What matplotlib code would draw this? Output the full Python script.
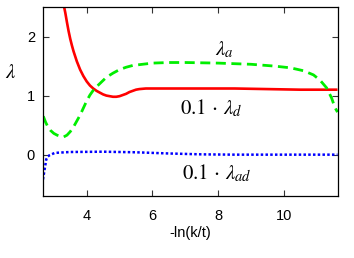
import matplotlib
matplotlib.use("Agg")
import matplotlib.pyplot as plt

plt.rcParams["font.family"] = ["Liberation Sans", "DejaVu Sans"]
plt.rcParams["mathtext.fontset"] = "stix"

# 0.1 * lambda_d (red, solid)
x_d = [3.25, 3.30, 3.35, 3.40, 3.45, 3.50, 3.55, 3.60, 3.70, 3.80, 3.90, 4.00,
       4.10, 4.20, 4.30, 4.40, 4.50, 4.60, 4.70, 4.80, 4.90, 5.00, 5.10, 5.20,
       5.30, 5.40, 5.50, 5.60, 5.80, 6.50, 7.50, 8.50, 9.50, 10.5, 11.63]
y_d = [2.68, 2.54, 2.40, 2.24, 2.09, 1.96, 1.85, 1.75, 1.58, 1.44, 1.33, 1.24,
       1.17, 1.12, 1.08, 1.05, 1.02, 1.00, 0.99, 0.98, 0.98, 0.99, 1.01, 1.03,
       1.06, 1.08, 1.10, 1.11, 1.12, 1.12, 1.12, 1.12, 1.11, 1.10, 1.10]

# lambda_a (green, dashed)
x_a = [2.68, 2.75, 2.82, 2.90, 3.00, 3.10, 3.20, 3.30, 3.40, 3.50, 3.60, 3.70,
       3.80, 3.90, 4.00, 4.10, 4.20, 4.30, 4.45, 4.60, 4.80, 5.00, 5.20, 5.40,
       5.70, 6.00, 6.50, 7.00, 8.00, 9.00, 9.70, 10.2, 10.6, 10.9, 11.1, 11.3,
       11.45, 11.55, 11.63]
y_a = [0.65, 0.55, 0.47, 0.41, 0.36, 0.33, 0.31, 0.30, 0.33, 0.39, 0.47, 0.57,
       0.67, 0.79, 0.91, 1.01, 1.09, 1.15, 1.23, 1.31, 1.38, 1.44, 1.48, 1.51,
       1.53, 1.55, 1.56, 1.56, 1.55, 1.53, 1.50, 1.47, 1.42, 1.35, 1.26, 1.13,
       0.96, 0.80, 0.72]

# 0.1 * lambda_ad (blue, dotted)
x_ad = [2.67, 2.70, 2.72, 2.75, 2.77, 2.82, 2.87, 2.95, 3.03, 3.50, 4.50, 5.50,
        6.50, 7.50, 8.50, 11.63]
y_ad = [-0.42, -0.32, -0.25, -0.15, -0.08, -0.03, -0.01, 0.01, 0.03, 0.045,
        0.05, 0.04, 0.02, 0.005, 0.0, 0.0]

fig = plt.figure(figsize=(3.54, 2.58), dpi=100)
ax = fig.add_axes([0.1223, 0.2403, 0.8311, 0.7326])

ax.plot(x_d, y_d, color="#ff0000", lw=1.9, solid_capstyle="butt")
ax.plot(x_a, y_a, color="#00ee00", lw=2.0, dashes=(3.6, 2.0), dash_capstyle="butt")
ax.plot(x_ad, y_ad, color="#0000ff", lw=1.8, dashes=(1, 0.9), dash_capstyle="butt")

ax.set_xlim(2.68, 11.63)
ax.set_ylim(-0.7, 2.5)
ax.set_xticks([4, 6, 8, 10])
ax.set_yticks([0, 1, 2])

ax.tick_params(direction="in", length=4, width=0.8, top=True, right=True,
               labelsize=10.5, color="#333333")
ax.tick_params(axis="x", pad=9)
ax.tick_params(axis="y", pad=6)
for s in ax.spines.values():
    s.set_linewidth(0.9)

ax.text(8.2, 1.77, r"$\lambda_a$", fontsize=15, ha="center", va="center")
ax.text(7.78, 0.79, r"$0.1\,\cdot\,\lambda_d$", fontsize=15, ha="center", va="center")
ax.text(7.97, -0.31, r"$0.1\,\cdot\,\lambda_{ad}$", fontsize=15, ha="center", va="center")

ax.set_xlabel("-ln(k/t)", fontsize=10.5, va="center")
ax.xaxis.set_label_coords(0.5, -0.196)
fig.text(11 / 354, 1 - 72 / 258, r"$\lambda$", fontsize=15, ha="center", va="center")

fig.savefig("out.png", dpi=100)
